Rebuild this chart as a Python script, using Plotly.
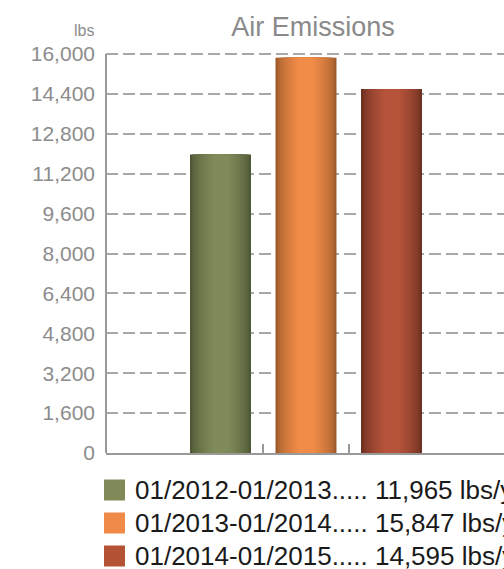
import plotly.graph_objects as go

# ---- data ----
periods = ["01/2012-01/2013", "01/2013-01/2014", "01/2014-01/2015"]
emissions = [11965, 15847, 14595]
y_ticks = [0, 1600, 3200, 4800, 6400, 8000, 9600, 11200, 12800, 14400, 16000]
y_max = 16000

# centre / edge colours for the cylinder-like shading
centre_colors = ["#808b5a", "#f08c48", "#b6533a"]
edge_colors = ["#4c5634", "#9c5a2c", "#6a2f20"]
swatch_colors = ["#7f8a58", "#f08a48", "#b45234"]

W, H = 504, 569
L, B = 106, 116
TOP_PAD = 2                    # a little headroom so the top gridline is kept
T = 54 - TOP_PAD
plot_h = H - T - B
plot_w = W - L

BAR_W = 0.713
N_LAYERS = 14


def hex_to_rgb(h):
    h = h.lstrip("#")
    return tuple(int(h[i:i + 2], 16) for i in (0, 2, 4))


def mix(c1, c2, t):
    a, b = hex_to_rgb(c1), hex_to_rgb(c2)
    return "rgb({},{},{})".format(*[round(a[i] + (b[i] - a[i]) * t) for i in range(3)])


fig = go.Figure()

xs = list(range(1, len(periods) + 1))
for i, (x, v) in enumerate(zip(xs, emissions)):
    # stacked overlays from wide/dark to narrow/light give a horizontal gradient
    for k in range(N_LAYERS):
        t = k / (N_LAYERS - 1)
        width = BAR_W * (1 - 0.93 * t)
        color = mix(edge_colors[i], centre_colors[i], min(1.0, (t ** 0.6) * 1.15))
        fig.add_trace(go.Bar(
            x=[x], y=[v], width=[width],
            marker=dict(color=color, line=dict(width=0)),
            showlegend=False, hoverinfo="skip" if k else "y",
        ))

FONT = "Liberation Sans, Arial, Helvetica, sans-serif"

fig.update_layout(
    width=W, height=H,
    margin=dict(l=L, r=0, t=T, b=B, autoexpand=False),
    barmode="overlay",
    plot_bgcolor="white", paper_bgcolor="white",
    font=dict(family=FONT),
    showlegend=False,
    title=dict(
        text="Air Emissions", x=313 / W, xanchor="center", xref="container",
        y=1 - 27 / H, yanchor="middle", yref="container",
        font=dict(size=27, color="#8a8a8a", family=FONT),
    ),
    xaxis=dict(
        range=[1 - 114.5 / 85.5, 1 + (W - L - 114.5) / 85.5],
        tickvals=[1.5, 2.5], ticks="inside", ticklen=9, tickwidth=1.5,
        tickcolor="#999999", showticklabels=False,
        showgrid=False, zeroline=False,
        showline=True, linecolor="#999999", linewidth=2,
    ),
    yaxis=dict(
        range=[0, y_max * (plot_h / (plot_h - TOP_PAD))],
        tickmode="array", tickvals=y_ticks,
        ticktext=[f"{v:,}" for v in y_ticks],
        tickfont=dict(size=21, color="#8c8c8c", family=FONT),
        ticks="", ticklabelstandoff=10, automargin=False,
        showgrid=True, gridcolor="#a8a8a8", gridwidth=1.5, griddash="12px,5px",
        zeroline=False,
        showline=False,
    ),
)

# value axis line runs from 0 up to the top gridline
fig.add_shape(
    type="line", xref="paper", yref="y", x0=0, x1=0, y0=0, y1=y_max,
    line=dict(color="#999999", width=2),
)

# unit label above the value axis
fig.add_annotation(
    text="lbs", xref="paper", yref="y", x=0, y=y_max,
    xanchor="right", yanchor="middle", xshift=-10, yshift=24,
    showarrow=False, font=dict(size=16, color="#8c8c8c"),
)

# legend rows: colour swatch + period / value text
row_centres = [490, 523, 556]
for i, (p, v) in enumerate(zip(periods, emissions)):
    yc = row_centres[i]
    fig.add_shape(
        type="rect", xref="paper", yref="paper",
        x0=(104 - L) / plot_w, x1=(125 - L) / plot_w,
        y0=(H - B - (yc + 10.5)) / plot_h, y1=(H - B - (yc - 10.5)) / plot_h,
        fillcolor=swatch_colors[i], line=dict(width=0),
    )
    fig.add_annotation(
        text=f"{p}..... {v:,} lbs/yr", xref="paper", yref="paper",
        x=(133 - L) / plot_w, y=(H - B - yc) / plot_h,
        xanchor="left", yanchor="middle", showarrow=False,
        font=dict(size=26, color="#1a1a1a"),
    )

fig.write_html("out.html")
